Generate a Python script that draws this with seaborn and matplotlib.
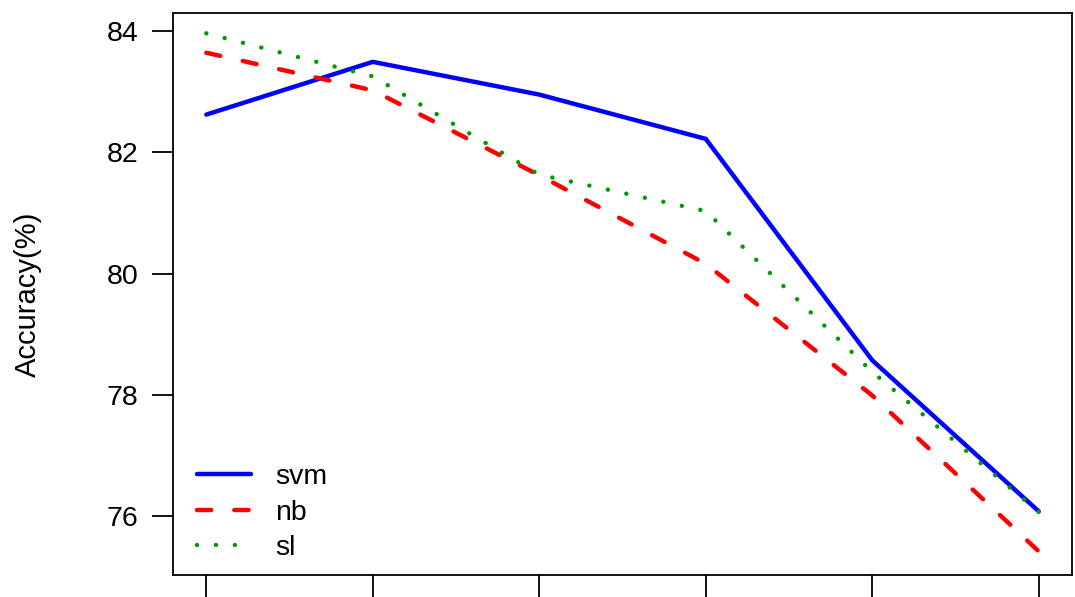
import numpy as np
import pandas as pd
import matplotlib
matplotlib.use("Agg")
import matplotlib.pyplot as plt
import seaborn as sns
from matplotlib.lines import Line2D

# ---- data ----
positions = [1, 2, 3, 4, 5, 6]
svm = [82.62, 83.49, 82.95, 82.22, 78.57, 76.08]
nb = [83.64, 83.02, 81.62, 80.16, 77.99, 75.42]
sl = [83.96, 83.25, 81.63, 81.03, 78.38, 76.07]
series_names = ["svm", "nb", "sl"]
y_ticks = [76, 78, 80, 82, 84]
y_label = "Accuracy(%)"

df = pd.DataFrame({
    "x": positions * 3,
    "acc": svm + nb + sl,
    "model": ["svm"] * 6 + ["nb"] * 6 + ["sl"] * 6,
})

sns.set_style("white")
plt.rcParams["font.family"] = ["Liberation Sans", "DejaVu Sans"]
plt.rcParams["text.color"] = "black"
plt.rcParams["axes.labelcolor"] = "black"
plt.rcParams["xtick.color"] = "black"
plt.rcParams["ytick.color"] = "black"
plt.rcParams["lines.dash_capstyle"] = "round"
plt.rcParams["lines.solid_capstyle"] = "round"

fig = plt.figure(figsize=(10.75, 5.97), dpi=100)
ax = fig.add_axes([173 / 1075, 22 / 597, 899 / 1075, 562.3 / 597])

palette = {"svm": "#0000FF", "nb": "#FF0000", "sl": "#009A00"}
dashes = {"svm": "", "nb": (3.2, 5.2), "sl": (0.01, 4.25)}
lw = 3.2

sns.lineplot(data=df, x="x", y="acc", hue="model", style="model",
             hue_order=series_names, style_order=series_names,
             palette=palette, dashes=dashes, linewidth=lw, ax=ax,
             legend=False)

for line in ax.get_lines():
    line.set_dash_capstyle("round")
    line.set_solid_capstyle("round")

handles = [
    Line2D([], [], color=palette["svm"], lw=lw, solid_capstyle="round"),
    Line2D([], [], color=palette["nb"], lw=lw, dashes=dashes["nb"], dash_capstyle="round"),
    Line2D([], [], color=palette["sl"], lw=lw, dashes=dashes["sl"], dash_capstyle="round"),
]
ax.legend(handles, series_names, loc="lower left", bbox_to_anchor=(0.027, 0.025),
          frameon=False, fontsize=20.5, handlelength=1.9, handletextpad=0.85,
          labelspacing=0.33, borderpad=0, borderaxespad=0)

ax.set_xlim(0.8, 6.2)
ax.set_ylim(75.03, 84.3)
ax.set_xticks(positions)
ax.set_xticklabels([""] * len(positions))
ax.set_yticks(y_ticks)
ax.set_yticklabels([str(t) for t in y_ticks], fontsize=20.5)
ax.set_xlabel("")
ax.set_ylabel(y_label, fontsize=21)
ax.yaxis.set_label_coords(-(173 - 42) / 899, 0.5)

for s in ax.spines.values():
    s.set_visible(True)
    s.set_color("black")
    s.set_linewidth(1.3)

ax.tick_params(axis="both", which="major", direction="out", color="black",
               width=1.3, bottom=True, left=True)
ax.tick_params(axis="y", length=15, pad=10)
ax.tick_params(axis="x", length=18, pad=4)

fig.savefig("out.png", dpi=100)
